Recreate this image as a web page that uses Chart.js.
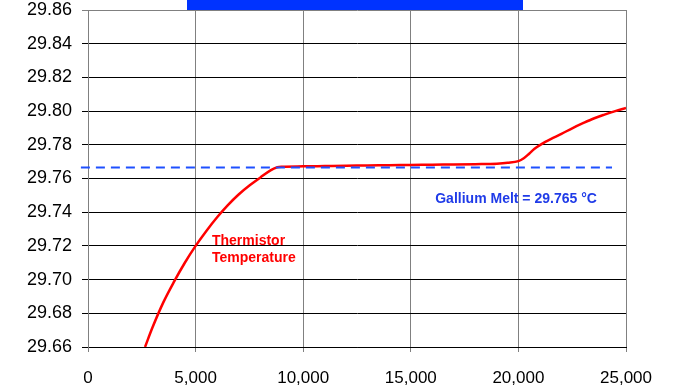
<!DOCTYPE html>
<html>
<head>
<meta charset="utf-8">
<script src="https://cdn.jsdelivr.net/npm/chart.js@4"></script>
<style>
	body { margin: 0; background: #fff; }
	#wrap { width: 673px; height: 387px; }
</style>
</head>
<body>
<div id="wrap"><canvas id="chart" width="673" height="387"></canvas></div>
<script>
// thermistor reading (time in s, temperature in C)
const timeSec = [2650, 3000, 3500, 4000, 4500, 5000, 5500, 6000, 6500, 7000, 7500, 8000, 8500, 8800,
	9000, 10000, 11000, 12000, 13000, 14000, 15000, 16000, 17000, 18000, 19000, 19500, 20000,
	20250, 20500, 20750, 21000, 21250, 21500, 22000, 22500, 23000, 23500, 24000, 24500, 25000];
const tempC = [29.660, 29.6717, 29.6865, 29.6988, 29.7100, 29.7200, 29.7289, 29.7370, 29.7442, 29.7505, 29.7558, 29.7605, 29.7650, 29.7667,
	29.7670, 29.7672, 29.7674, 29.7676, 29.7677, 29.7679, 29.7680, 29.7682, 29.7683, 29.7685, 29.7688, 29.7693, 29.7703,
	29.7720, 29.7747, 29.7776, 29.7798, 29.7817, 29.7834, 29.7865, 29.7898, 29.7928, 29.7956, 29.7979, 29.8000, 29.8018];
// gallium melt reference line
const meltX = [-330, 24350];
const meltY = [29.7665, 29.7665];
// tick labels
const xTicks = [0, 5000, 10000, 15000, 20000, 25000];
const yTicks = [29.66, 29.68, 29.70, 29.72, 29.74, 29.76, 29.78, 29.80, 29.82, 29.84, 29.86];

Chart.defaults.font.family = "'Liberation Sans', Arial, sans-serif";
Chart.defaults.color = '#000';

// title bar (cut off at the top) and text notes
const extras = {
	id: 'extras',
	beforeDraw(chart) {
		const ctx = chart.ctx;
		ctx.save();
		ctx.fillStyle = '#0033ff';
		ctx.fillRect(187, 0, 336, chart.chartArea.top);
		ctx.restore();
	},
	afterDatasetsDraw(chart) {
		const ctx = chart.ctx;
		const x = chart.scales.x, y = chart.scales.y;
		ctx.save();
		ctx.font = "bold 14px 'Liberation Sans', Arial, sans-serif";
		ctx.textBaseline = 'middle';
		ctx.fillStyle = '#1f3be8';
		ctx.textAlign = 'center';
		ctx.fillText('Gallium Melt = 29.765 °C', x.getPixelForValue(19890), y.getPixelForValue(29.7478));
		ctx.fillStyle = '#ff0000';
		ctx.textAlign = 'left';
		ctx.fillText('Thermistor', x.getPixelForValue(5760), y.getPixelForValue(29.7230));
		ctx.fillText('Temperature', x.getPixelForValue(5760), y.getPixelForValue(29.7129));
		ctx.restore();
	}
};

new Chart(document.getElementById('chart'), {
	type: 'scatter',
	data: {
		datasets: [{
			label: 'Gallium Melt',
			data: meltX.map((v, i) => ({ x: v, y: meltY[i] })),
			showLine: true,
			borderColor: '#1e50ff',
			borderWidth: 2,
			borderDash: [9, 6],
			pointRadius: 0,
			clip: false
		}, {
			label: 'Thermistor Temperature',
			data: timeSec.map((v, i) => ({ x: v, y: tempC[i] })),
			showLine: true,
			borderColor: '#ff0000',
			borderWidth: 2.5,
			pointRadius: 0,
			cubicInterpolationMode: 'monotone'
		}]
	},
	options: {
		responsive: false,
		animation: false,
		layout: { padding: { left: 0, top: 10, right: 47, bottom: 0 } },
		plugins: {
			legend: { display: false },
			tooltip: { enabled: false }
		},
		scales: {
			x: {
				type: 'linear',
				min: 0,
				max: 25000,
				afterFit: (s) => { s.height = 40; s.paddingLeft = 0; s.paddingRight = 0; },
				afterBuildTicks: (s) => { s.ticks = xTicks.map(v => ({ value: v })); },
				grid: {
					color: (c) => c.index === 0 ? '#000' : '#808080',
					tickColor: '#808080',
					tickLength: 5
				},
				border: { color: '#000' },
				ticks: {
					padding: 16,
					font: { size: 17 },
					callback: (v) => v.toLocaleString('en-US')
				}
			},
			y: {
				min: 29.66,
				max: 29.86,
				afterFit: (s) => { s.width = 88; s.paddingTop = 0; s.paddingBottom = 0; },
				afterBuildTicks: (s) => { s.ticks = yTicks.map(v => ({ value: v })); },
				grid: {
					color: (c) => c.index === yTicks.length - 1 ? '#808080' : '#000',
					tickColor: (c) => c.index === yTicks.length - 1 ? '#808080' : '#000',
					tickLength: 6
				},
				border: { color: '#808080' },
				ticks: {
					padding: 10,
					font: { size: 18 },
					callback: (v) => v.toFixed(2)
				}
			}
		}
	},
	plugins: [extras]
});
</script>
</body>
</html>
